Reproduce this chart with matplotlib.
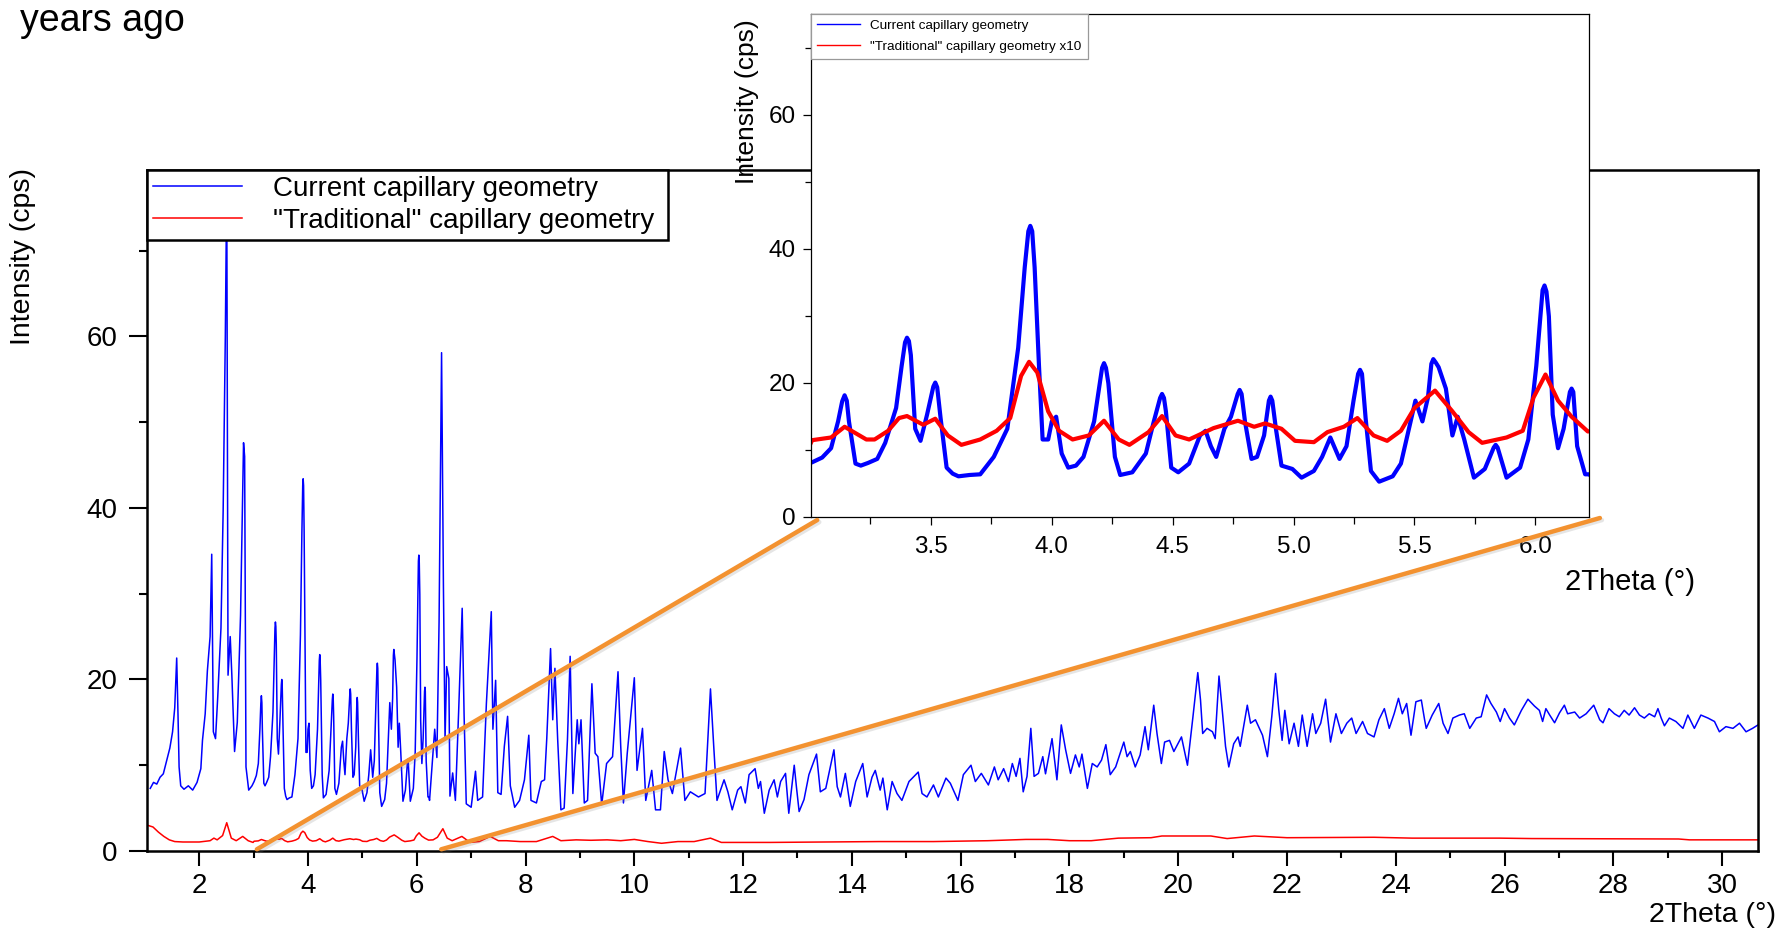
import numpy as np
import matplotlib
matplotlib.use("Agg")
import matplotlib.pyplot as plt
import matplotlib.patheffects as pe
from matplotlib.patches import ConnectionPatch
from matplotlib.ticker import MultipleLocator, FormatStrFormatter

plt.rcParams['font.family'] = ['Liberation Sans', 'DejaVu Sans']

# ---- data ----
# current capillary geometry (blue), 2Theta in degrees, intensity in cps
blue_x = [1.10, 1.16, 1.22, 1.28, 1.34, 1.40, 1.46, 1.51, 1.55, 1.586, 1.61, 1.63, 1.66, 1.72, 1.80,
          1.88, 1.96, 2.03, 2.06, 2.11, 2.15, 2.20, 2.23, 2.26, 2.30, 2.34, 2.40, 2.44, 2.48, 2.506,
          2.53, 2.57, 2.60, 2.65, 2.70, 2.76, 2.815, 2.835, 2.86, 2.91, 2.97,
          # 3.0 - 6.2
          3.009, 3.05, 3.087, 3.116, 3.133, 3.143, 3.152, 3.161, 3.188, 3.21, 3.24, 3.278, 3.311,
          3.356, 3.379, 3.393, 3.401, 3.409, 3.417, 3.435, 3.457, 3.484, 3.51, 3.518, 3.526, 3.54,
          3.565, 3.59, 3.614, 3.66, 3.704, 3.76, 3.816, 3.861, 3.888, 3.903, 3.911, 3.919, 3.929,
          3.947, 3.962, 3.985, 4.0, 4.018, 4.041, 4.068, 4.10, 4.131, 4.175, 4.208, 4.216, 4.224,
          4.234, 4.261, 4.283, 4.333, 4.389, 4.422, 4.448, 4.456, 4.464, 4.472, 4.494, 4.523, 4.568,
          4.613, 4.636, 4.658, 4.68, 4.714, 4.741, 4.769, 4.777, 4.785, 4.799, 4.826, 4.849, 4.878,
          4.898, 4.905, 4.912, 4.927, 4.95, 4.995, 5.033, 5.084, 5.118, 5.152, 5.19, 5.219, 5.248,
          5.267, 5.275, 5.283, 5.298, 5.32, 5.354, 5.41, 5.444, 5.477, 5.504, 5.533, 5.556, 5.570,
          5.578, 5.588, 5.60, 5.63, 5.657, 5.679, 5.706, 5.746, 5.791, 5.828, 5.836, 5.844, 5.881,
          5.937, 5.971, 6.004, 6.030, 6.038, 6.046, 6.056, 6.072, 6.094, 6.117, 6.143, 6.15, 6.157,
          6.173, 6.206, 6.222,
          6.235, 6.33, 6.37, 6.41, 6.456, 6.49, 6.52, 6.55, 6.59, 6.61, 6.66, 6.71, 6.77, 6.835,
          6.87, 6.91, 7.0, 7.08, 7.12, 7.21, 7.28, 7.37, 7.40, 7.45, 7.49, 7.55, 7.61, 7.67, 7.72,
          7.80, 7.89, 7.98, 8.06, 8.10, 8.20, 8.29, 8.35, 8.39, 8.46, 8.50, 8.54, 8.59, 8.65, 8.71,
          8.77, 8.82, 8.87, 8.95, 8.98, 9.02, 9.08, 9.14, 9.22, 9.28, 9.33, 9.40, 9.49, 9.60, 9.70,
          9.75, 9.80, 9.87, 10.0, 10.05, 10.15, 10.21, 10.32, 10.39, 10.48, 10.55, 10.62, 10.70,
          10.85, 10.93, 11.03, 11.18, 11.30, 11.40, 11.46, 11.52, 11.65, 11.72, 11.80, 11.90, 11.96,
          12.04, 12.11, 12.22, 12.28, 12.32, 12.39, 12.48, 12.57, 12.63, 12.69, 12.78, 12.84, 12.94,
          12.98, 13.03, 13.12, 13.21, 13.35, 13.42, 13.52, 13.67, 13.73, 13.79, 13.88, 13.97, 14.07,
          14.20, 14.28, 14.37, 14.43, 14.52, 14.57, 14.65, 14.74, 14.83, 14.92, 15.05, 15.22, 15.29,
          15.38, 15.50, 15.59, 15.73, 15.81, 15.95, 16.05, 16.19, 16.27, 16.38, 16.51, 16.62, 16.69,
          16.79, 16.88, 16.95, 17.02, 17.09, 17.15, 17.22, 17.29, 17.35, 17.43, 17.51, 17.56, 17.68,
          17.77, 17.85, 17.93, 18.02, 18.11, 18.18, 18.23, 18.33, 18.42, 18.51, 18.59, 18.67, 18.75,
          18.85, 19.00, 19.06, 19.12, 19.21, 19.30, 19.39, 19.45, 19.55, 19.61, 19.69, 19.75, 19.84,
          19.92, 20.06, 20.17, 20.27, 20.36, 20.41, 20.45, 20.53, 20.63, 20.68, 20.75, 20.81, 20.87,
          20.93, 21.02, 21.10, 21.14, 21.27, 21.33, 21.42, 21.55, 21.64, 21.72, 21.79, 21.85, 21.91,
          21.96, 22.04, 22.13, 22.21, 22.28, 22.37, 22.47, 22.53, 22.62, 22.71, 22.80, 22.90, 23.00,
          23.10, 23.19, 23.27, 23.39, 23.48, 23.60, 23.69, 23.79, 23.88, 23.97, 24.05, 24.12, 24.20,
          24.28, 24.37, 24.47, 24.53, 24.56, 24.67, 24.79, 24.87, 24.96, 25.05, 25.17, 25.26, 25.36,
          25.48, 25.57, 25.67, 25.75, 25.85, 25.92, 26.00, 26.09, 26.18, 26.31, 26.43, 26.55, 26.64,
          26.70, 26.76, 26.83, 26.92, 27.01, 27.10, 27.16, 27.29, 27.38, 27.50, 27.64, 27.75, 27.81,
          27.92, 28.02, 28.11, 28.20, 28.29, 28.39, 28.48, 28.57, 28.66, 28.76, 28.82, 28.88, 28.94,
          29.03, 29.15, 29.28, 29.37, 29.49, 29.61, 29.74, 29.86, 29.95, 30.07, 30.20, 30.32, 30.44,
          30.56, 30.66]
blue_y = [7.3, 8.0, 7.8, 8.6, 9.0, 10.5, 12.0, 13.9, 16.7, 22.5, 15.9, 9.8, 7.6, 7.2, 7.6,
          7.1, 8.0, 9.6, 12.9, 16.0, 21.0, 25.0, 34.6, 13.9, 13.1, 17.9, 26.0, 39.6, 60.0, 78.0,
          20.5, 25.0, 20.5, 11.6, 15.0, 27.5, 47.6, 46.0, 9.8, 7.1, 7.6,
          8.1, 8.8, 10.2, 14.2, 17.2, 18.1, 17.3, 14.2, 7.9, 7.6, 8.0, 8.6, 11.0,
          16.2, 22.5, 26.0, 26.7, 26.2, 24.1, 13.1, 11.3, 15.2, 19.4, 20.0, 19.3, 14.7,
          7.3, 6.4, 6.0, 6.2, 6.3, 8.9, 13.1, 25.2, 37.2, 42.6, 43.4, 42.6, 37.2,
          22.5, 11.5, 11.5, 14.2, 14.9, 9.4, 7.3, 7.6, 8.9, 14.2, 22.2, 22.9, 22.2,
          19.9, 8.9, 6.2, 6.6, 9.4, 14.2, 17.7, 18.3, 17.7, 15.7, 7.3, 6.6, 7.9,
          12.1, 12.8, 10.5, 8.9, 13.1, 14.9, 18.3, 18.9, 18.3, 14.2, 8.6, 8.9, 12.1,
          17.3, 17.9, 17.3, 13.1, 7.6, 7.1, 5.8, 6.8, 8.9, 11.8, 8.6, 10.5, 17.3,
          21.3, 21.9, 21.3, 14.7, 6.8, 5.2, 6.0, 7.9, 13.1, 17.3, 14.2, 17.8, 22.8,
          23.5, 23.0, 22.3, 19.1, 12.1, 14.9, 11.5, 5.8, 7.1, 10.3, 10.7, 10.3, 5.8,
          7.3, 11.5, 22.5, 33.8, 34.5, 33.6, 29.9, 15.2, 10.2, 13.1, 18.6, 19.1, 18.6,
          10.5, 6.3, 6.3,
          5.9, 14.2, 10.9, 26.7, 58.1, 30.9, 13.0, 21.5, 20.1, 6.4, 9.1, 5.9, 16.3, 28.3,
          15.9, 5.5, 5.1, 9.3, 5.9, 6.3, 17.2, 27.9, 14.2, 19.9, 6.8, 6.6, 12.2, 15.7, 7.6,
          5.1, 5.9, 8.3, 13.5, 5.9, 5.6, 8.1, 8.3, 13.1, 23.6, 15.3, 21.3, 13.1, 4.8, 5.0,
          12.9, 22.7, 6.7, 15.3, 12.5, 15.3, 5.6, 5.9, 19.5, 11.4, 11.0, 5.4, 10.2, 11.0, 20.9,
          12.2, 5.6, 11.4, 20.2, 9.4, 14.3, 5.9, 9.4, 4.8, 4.8, 11.6, 8.3, 6.7,
          12.0, 5.9, 6.9, 6.3, 6.7, 18.9, 12.2, 5.9, 8.3, 6.9, 4.8, 7.1, 7.5,
          5.6, 8.9, 9.6, 7.3, 8.1, 4.4, 7.1, 8.3, 6.3, 8.1, 9.05, 4.4, 10.0,
          7.5, 4.6, 6.0, 8.9, 11.3, 6.9, 7.3, 11.8, 7.5, 6.3, 9.05, 5.2, 8.1,
          10.2, 6.3, 8.6, 9.4, 7.1, 8.5, 4.8, 8.1, 6.7, 5.9, 8.1, 9.2, 6.7,
          6.3, 7.7, 6.3, 8.5, 7.9, 5.9, 8.9, 10.0, 8.1, 9.05, 7.7, 9.8, 8.3,
          9.6, 8.1, 10.2, 8.7, 10.8, 6.9, 8.7, 14.3, 8.7, 9.05, 11.0, 9.0, 13.1,
          8.3, 14.7, 11.8, 9.05, 11.2, 9.8, 11.3, 7.3, 10.2, 9.8, 10.6, 12.4, 8.9,
          9.8, 12.7, 11.0, 11.6, 9.8, 11.2, 14.5, 11.8, 17.0, 13.7, 10.2, 12.7, 12.9,
          11.6, 13.3, 10.0, 15.6, 20.8, 17.6, 13.7, 14.3, 13.9, 13.1, 20.4, 16.4, 12.2,
          9.8, 12.5, 13.3, 12.2, 17.0, 14.9, 15.3, 13.5, 11.0, 15.65, 20.7, 16.4, 12.9,
          16.4, 12.5, 14.9, 12.2, 15.85, 12.2, 16.0, 13.7, 14.9, 17.7, 12.7, 16.0, 13.7,
          14.9, 15.5, 13.7, 15.1, 13.7, 13.3, 15.3, 16.6, 14.3, 16.0, 17.8, 16.0, 17.2,
          13.5, 17.4, 17.6, 15.3, 14.3, 15.85, 17.2, 14.9, 13.7, 15.5, 15.85, 16.0, 14.3,
          15.5, 15.65, 18.2, 17.2, 16.2, 15.1, 16.6, 15.5, 14.7, 16.4, 17.7, 16.9, 16.4,
          15.1, 16.6, 15.85, 14.95, 16.1, 17.0, 16.0, 16.2, 15.5, 16.0, 17.0, 15.3, 14.95,
          16.6, 16.0, 15.65, 16.4, 15.85, 16.7, 15.85, 15.5, 16.0, 15.65, 16.6, 15.5, 14.6,
          15.5, 15.1, 14.3, 15.85, 14.3, 15.85, 15.5, 15.1, 13.9, 14.5, 14.3, 14.9, 13.9,
          14.3, 14.7]

# "traditional" capillary geometry (red)
red_x = [1.05, 1.15, 1.25, 1.35, 1.45, 1.55, 1.70, 2.00, 2.20, 2.27, 2.33, 2.43, 2.506, 2.59,
         2.68, 2.80, 2.90, 2.99,
         3.009, 3.087, 3.143, 3.233, 3.267, 3.323, 3.368, 3.401, 3.468, 3.518, 3.57, 3.626, 3.704,
         3.772, 3.828, 3.873, 3.906, 3.94, 3.985, 4.03, 4.086, 4.153, 4.216, 4.277, 4.321, 4.40,
         4.456, 4.512, 4.568, 4.669, 4.77, 4.837, 4.882, 4.95, 5.006, 5.084, 5.14, 5.208, 5.264,
         5.331, 5.387, 5.444, 5.50, 5.585, 5.657, 5.724, 5.78, 5.881, 5.948, 5.993, 6.042, 6.094,
         6.15, 6.217,
         6.30, 6.38, 6.48, 6.56, 6.65, 6.83, 6.98, 7.15, 7.35, 7.50, 7.65, 7.90, 8.20, 8.50, 8.65,
         8.93, 9.20, 9.50, 9.75, 10.0, 10.25, 10.5, 10.8, 11.1, 11.4, 11.6, 12.5, 13.5, 14.5, 15.5,
         16.5, 17.2, 17.6, 18.0, 18.4, 18.9, 19.5, 19.7, 20.3, 20.6, 20.9, 21.4, 22.0, 23.6, 24.3,
         25.9, 26.5, 29.2, 29.4, 30.66]
red_y = [3.0, 2.8, 2.2, 1.7, 1.3, 1.1, 1.05, 1.05, 1.2, 1.5, 1.3, 1.8, 3.3, 1.5,
         1.2, 1.7, 1.2, 1.0,
         1.14, 1.18, 1.34, 1.15, 1.15, 1.28, 1.47, 1.50, 1.37, 1.46, 1.21, 1.07, 1.15,
         1.28, 1.47, 2.10, 2.31, 2.15, 1.57, 1.28, 1.15, 1.21, 1.43, 1.15, 1.07, 1.26,
         1.50, 1.21, 1.15, 1.32, 1.43, 1.34, 1.39, 1.31, 1.13, 1.11, 1.26, 1.34, 1.47,
         1.21, 1.13, 1.28, 1.62, 1.88, 1.57, 1.26, 1.10, 1.18, 1.28, 1.78, 2.12, 1.73,
         1.49, 1.27,
         1.3, 1.6, 2.6, 1.5, 1.2, 1.7, 1.0, 1.1, 1.7, 1.2, 1.2, 1.1, 1.1, 1.7, 1.2,
         1.3, 1.25, 1.3, 1.2, 1.35, 1.1, 0.9, 1.1, 1.1, 1.5, 1.0, 1.0, 1.05, 1.1, 1.1,
         1.2, 1.35, 1.35, 1.2, 1.2, 1.5, 1.55, 1.75, 1.75, 1.75, 1.45, 1.75, 1.55, 1.6, 1.5,
         1.5, 1.45, 1.4, 1.3, 1.3]

red_scale = 10   # the zoomed panel shows the traditional pattern x10

blue_x = np.array(blue_x)
blue_y = np.array(blue_y)
red_x = np.array(red_x)
red_y = np.array(red_y)

W, H = 1775, 930
fig = plt.figure(figsize=(W / 100, H / 100), dpi=100)

# main axes
ax = fig.add_axes([147 / W, 1 - 851 / H, (1758 - 147) / W, (851 - 170) / H])
ax.plot(blue_x, blue_y, color='#0000ff', lw=1.1, label='Current capillary geometry')
ax.plot(red_x, red_y, color='#ff0000', lw=1.1, label='"Traditional" capillary geometry')
ax.set_xlim(1.04, 30.66)
ax.set_ylim(0, 79.4)
ax.xaxis.set_major_locator(MultipleLocator(2))
ax.xaxis.set_minor_locator(MultipleLocator(1))
ax.yaxis.set_major_locator(MultipleLocator(20))
ax.yaxis.set_minor_locator(MultipleLocator(10))
for s in ax.spines.values():
    s.set_linewidth(1.8)
ax.tick_params(which='both', direction='out', width=1.5, labelsize=20)
ax.tick_params(axis='x', which='major', length=11, pad=5)
ax.tick_params(axis='x', which='minor', length=5)
ax.tick_params(axis='y', which='major', length=13, pad=8)
ax.tick_params(axis='y', which='minor', length=6)
ax.set_ylabel('Intensity (cps)', fontsize=20.5, loc='top')
ax.yaxis.label.set_va('center')
ax.yaxis.set_label_coords(-0.077, 1.003)
ax.set_xlabel('2Theta (°)', fontsize=20.5)
ax.xaxis.label.set_va('center')
ax.xaxis.set_label_coords(0.972, -0.094)
leg = ax.legend(loc='upper left', bbox_to_anchor=(0, 1, (668 - 147) / 1611, 0), mode='expand',
                borderaxespad=0, fontsize=20, handlelength=3.2, handletextpad=1.1,
                borderpad=0.22, labelspacing=0.2, fancybox=False, framealpha=1)
leg.get_frame().set_edgecolor('black')
leg.get_frame().set_linewidth(1.8)

# zoomed panel
ins = fig.add_axes([811 / W, 1 - 516.5 / H, (1589 - 811) / W, (516.5 - 13.6) / H])
ins.plot(blue_x, blue_y, color='#0000ff', lw=3.0, solid_joinstyle='round',
         label='Current capillary geometry')
ins.plot(red_x, red_y * red_scale, color='#ff0000', lw=3.0, solid_joinstyle='round',
         label='"Traditional" capillary geometry x10')
ins.set_xlim(3.004, 6.222)
ins.set_ylim(0, 75.1)
ins.xaxis.set_major_locator(MultipleLocator(0.5))
ins.xaxis.set_minor_locator(MultipleLocator(0.25))
ins.xaxis.set_major_formatter(FormatStrFormatter('%.1f'))
ins.yaxis.set_major_locator(MultipleLocator(20))
ins.yaxis.set_minor_locator(MultipleLocator(10))
for s in ins.spines.values():
    s.set_linewidth(0.9)
ins.tick_params(which='both', direction='out', width=0.9, labelsize=17.5)
ins.tick_params(axis='x', which='major', length=6, pad=8)
ins.tick_params(axis='x', which='minor', length=5)
ins.tick_params(axis='y', which='major', length=6, pad=5)
ins.tick_params(axis='y', which='minor', length=4)
ins.set_ylabel('Intensity (cps)', fontsize=19, loc='top')
ins.yaxis.label.set_va('center')
ins.yaxis.set_label_coords(-0.082, 0.989)
ins.set_xlabel('2Theta (°)', fontsize=21)
ins.xaxis.label.set_va('center')
ins.xaxis.set_label_coords(1.053, -0.130)
ileg = ins.legend(loc='upper left', bbox_to_anchor=(0, 1), borderaxespad=0, fontsize=9.7,
                  handlelength=3.2, handletextpad=0.75, borderpad=0.45, labelspacing=0.6,
                  fancybox=False, framealpha=1)
for ln in ileg.get_lines():
    ln.set_linewidth(1.0)
ileg.get_frame().set_edgecolor('#999999')
ileg.get_frame().set_linewidth(0.9)

# orange zoom lines
shadow = [pe.SimpleLineShadow(offset=(1.5, -1.5), shadow_color='0.5', alpha=0.2), pe.Normal()]
for xa, xb in [(3.06, (0.008, -0.007)), (6.45, (1.014, -0.003))]:
    con = ConnectionPatch(xyA=(xa, 0.2), coordsA=ax.transData, xyB=xb, coordsB=ins.transAxes,
                          color='#f39230', lw=3.2, zorder=5)
    con.set_path_effects(shadow)
    fig.add_artist(con)

fig.text(20 / W, 1 - 31 / H, 'years ago', fontsize=27, va='baseline', ha='left')

fig.savefig('out.png', dpi=100)
